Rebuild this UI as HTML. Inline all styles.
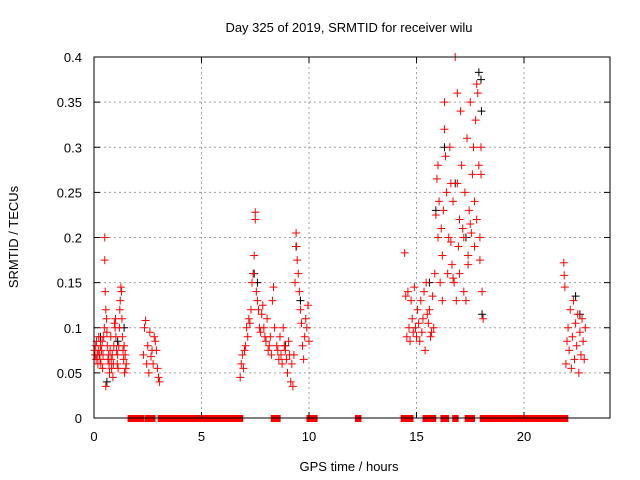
<!DOCTYPE html>
<html><head><meta charset="utf-8"><style>
body{margin:0;background:#fff}
svg{display:block;font-family:"Liberation Sans",sans-serif}
</style></head><body>
<svg id="chart" width="640" height="480" viewBox="0 0 640 480">
<rect width="640" height="480" fill="#fff"/>
<text x="349" y="32" font-size="13" text-anchor="middle">Day 325 of 2019, SRMTID for receiver wilu</text>
<text x="349" y="471" font-size="13" text-anchor="middle">GPS time / hours</text>
<text transform="translate(18,237) rotate(-90)" font-size="13" text-anchor="middle">SRMTID / TECUs</text>
<g id="grid"></g><g id="marks"></g><g id="axes"></g>
</svg>
<script>
const xTicks=[0,5,10,15,20];
const xTickLabels=["0","5","10","15","20"];
const yTicks=[0,0.05,0.1,0.15,0.2,0.25,0.3,0.35,0.4];
const yTickLabels=["0","0.05","0.1","0.15","0.2","0.25","0.3","0.35","0.4"];
const zeroRanges=[[1.7,2.2],[2.5,2.72],[3.1,6.8],[8.36,8.54],[10.02,10.26],[12.28,12.3],[14.4,14.72],[15.42,15.52],[15.68,15.78],[16.25,16.38],[16.8,16.82],[17.38,17.58],[18.08,21.92]];
const redHours=[0.02,0.05,0.08,0.1,0.12,0.15,0.18,0.2,0.22,0.25,0.28,0.3,0.32,0.35,0.38,0.4,0.42,0.45,0.48,0.5,0.5,0.52,0.55,0.55,0.58,0.6,0.62,0.65,0.68,0.7,0.72,0.75,0.78,0.8,0.82,0.85,0.88,0.9,0.92,0.95,0.98,1.0,1.02,1.05,1.08,1.1,1.12,1.15,1.18,1.2,1.22,1.25,1.28,1.3,1.32,1.35,1.38,1.4,1.42,1.45,1.48,1.5,
2.3,2.35,2.4,2.45,2.5,2.55,2.6,2.65,2.7,2.75,2.8,2.85,2.9,2.95,3.0,3.05,
6.8,6.85,6.9,6.95,7.0,7.05,7.1,7.15,7.2,7.25,7.3,7.35,7.4,7.45,7.5,7.5,7.55,7.6,7.65,7.7,7.75,7.8,7.85,7.9,7.95,8.0,8.05,8.1,8.15,8.2,8.25,8.3,8.35,8.4,
8.5,8.55,8.6,8.65,8.7,8.75,8.8,8.85,8.9,8.95,9.0,9.05,9.1,9.15,9.2,9.25,
9.3,9.35,9.4,9.42,9.45,9.5,9.55,9.6,9.65,9.7,9.75,9.8,9.85,9.9,9.95,10.0,
14.45,14.5,14.55,14.6,14.65,14.7,14.75,14.8,14.85,14.9,14.95,15.0,15.05,15.1,15.15,15.2,15.25,15.3,15.35,15.4,15.45,15.5,15.55,15.6,15.65,15.7,15.75,15.8,
15.85,15.9,15.95,16.0,16.05,16.1,16.15,16.2,16.25,16.3,16.35,16.4,16.45,16.5,16.55,16.6,16.65,16.7,16.75,16.8,16.85,16.9,16.95,17.0,17.05,17.1,17.15,17.2,17.25,17.3,17.35,17.4,17.45,17.5,17.55,17.6,17.65,17.7,17.75,17.8,17.85,17.9,17.95,18.0,18.05,18.1,
16.0,16.3,16.6,16.9,17.2,17.5,17.8,18.0,16.2,16.7,17.0,17.4,17.7,17.95,
21.85,21.87,21.9,21.95,22.0,22.05,22.1,22.15,22.2,22.25,22.3,22.35,22.4,22.45,22.5,22.55,22.6,22.65,22.7,22.75,22.8,22.85];
const redValues=[.075,.07,.08,.065,.085,.07,.06,.075,.09,.07,.065,.08,.06,.075,.085,.055,.07,.09,.1,.2,.175,.14,.12,.035,.11,.095,.08,.065,.07,.06,.05,.075,.09,.065,.055,.07,.045,.06,.08,.105,.1,.11,.09,.075,.06,.07,.055,.08,.1,.12,.13,.145,.14,.11,.09,.075,.065,.08,.05,.07,.055,.06,
.07,.1,.108,.06,.08,.05,.095,.068,.075,.06,.09,.085,.075,.055,.045,.04,
.045,.06,.07,.055,.075,.08,.1,.09,.11,.105,.12,.15,.16,.18,.22,.228,.14,.13,.12,.1,.095,.115,.125,.1,.09,.085,.11,.075,.08,.09,.07,.13,.145,.1,
.08,.075,.065,.09,.07,.06,.1,.08,.075,.065,.05,.085,.07,.04,.06,.035,
.07,.15,.205,.19,.175,.16,.14,.12,.105,.08,.065,.09,.11,.1,.125,.085,
.183,.135,.09,.14,.1,.085,.13,.11,.095,.145,.1,.09,.12,.105,.085,.13,.095,.11,.14,.075,.15,.115,.105,.12,.09,.095,.135,.1,
.16,.225,.265,.2,.24,.15,.21,.18,.23,.32,.29,.25,.16,.2,.3,.195,.17,.24,.15,.4,.13,.26,.19,.22,.34,.28,.21,.2,.25,.13,.31,.17,.23,.35,.205,.27,.3,.19,.33,.22,.36,.28,.175,.3,.14,.11,
.28,.35,.26,.36,.14,.215,.37,.27,.13,.155,.16,.18,.24,.2,
.172,.158,.145,.06,.085,.1,.075,.12,.055,.09,.13,.065,.105,.08,.115,.05,.095,.07,.11,.085,.065,.1];
const blackHours=[0.3,0.6,1.1,1.4,7.45,7.6,8.9,9.4,9.6,15.6,15.9,16.3,16.8,17.3,17.9,18.0,18.02,18.05,22.4,22.6];
const blackValues=[.09,.04,.085,.1,.16,.15,.08,.19,.13,.15,.23,.3,.26,.2,.383,.375,.34,.115,.135,.115];

const X0=94,X1=610,Y0=418,Y1=57,XMAX=24,YMAX=0.4;
const sx=h=>X0+(X1-X0)*h/XMAX, sy=v=>Y0-(Y0-Y1)*v/YMAX;
const NS="http://www.w3.org/2000/svg";
const mk=(t,a,p)=>{const e=document.createElementNS(NS,t);for(const k in a)e.setAttribute(k,a[k]);p.appendChild(e);return e;};
const grid=document.getElementById('grid'),marks=document.getElementById('marks'),axes=document.getElementById('axes');
xTicks.forEach((t,i)=>{
 if(t>0){const g=mk('line',{x1:sx(t),x2:sx(t),y1:Y1,y2:Y0,stroke:'#a0a0a0','stroke-dasharray':'2,3'},grid);
 }
 mk('line',{x1:sx(t),x2:sx(t),y1:Y0,y2:Y0-6,stroke:'#000'},axes);
 mk('line',{x1:sx(t),x2:sx(t),y1:Y1,y2:Y1+6,stroke:'#000'},axes);
 const l=mk('text',{x:sx(t),y:Y0+23,'font-size':13,'text-anchor':'middle'},axes);l.textContent=xTickLabels[i];
 
});
yTicks.forEach((t,i)=>{
 if(t>0&&t<YMAX){const g=mk('line',{x1:X0,x2:X1,y1:sy(t),y2:sy(t),stroke:'#a0a0a0','stroke-dasharray':'2,3'},grid);
 }
 mk('line',{x1:X0,x2:X0+6,y1:sy(t),y2:sy(t),stroke:'#000'},axes);
 mk('line',{x1:X1,x2:X1-6,y1:sy(t),y2:sy(t),stroke:'#000'},axes);
 const l=mk('text',{x:X0-12,y:sy(t)+5,'font-size':13,'text-anchor':'end'},axes);l.textContent=yTickLabels[i];
 
});
const frame=mk('rect',{x:X0,y:Y1,width:X1-X0,height:Y0-Y1,fill:'none',stroke:'#000'},axes);


function plus(h,v,c,name){
 const x=sx(h),y=sy(v);
 const p=mk('path',{d:`M${x-4},${y}H${x+4}M${x},${y-4}V${y+4}`,stroke:c,'stroke-width':1,fill:'none'},marks);
 
 
}
blackHours.forEach((h,i)=>plus(h,blackValues[i],'#000','black-point'));
redHours.forEach((h,i)=>plus(h,redValues[i],'#ff0000','red-point'));
zeroRanges.forEach(r=>{
 const z=mk('rect',{x:sx(r[0])-3,y:Y0-3,width:sx(r[1])-sx(r[0])+6,height:7,fill:'#ff0000'},marks);
 
 
});
</script>
</body></html>
